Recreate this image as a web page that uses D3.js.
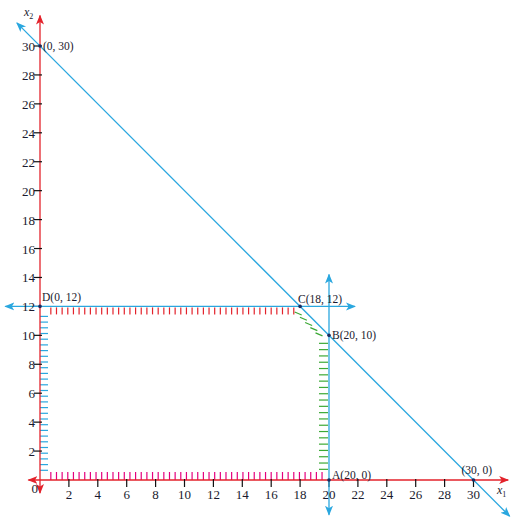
<!DOCTYPE html>
<html><head><meta charset="utf-8">
<script src="https://cdn.jsdelivr.net/npm/d3@7"></script>
<style>body{margin:0;background:#fff}svg{display:block}</style>
</head><body>
<svg id="c" width="514" height="521"></svg>
<script>
const xTicks = [2,4,6,8,10,12,14,16,18,20,22,24,26,28,30];
const yTicks = [2,4,6,8,10,12,14,16,18,20,22,24,26,28,30];
const vertices = [
  {name:"(0, 30)", x:0, y:30, dx:3, dy:4},
  {name:"D(0, 12)", x:0, y:12, dx:2, dy:-5},
  {name:"C(18, 12)", x:18, y:12, dx:-2, dy:-3},
  {name:"B(20, 10)", x:20, y:10, dx:3, dy:4},
  {name:"A(20, 0)", x:20, y:0, dx:3, dy:-1},
  {name:"(30, 0)", x:30, y:0, dx:-12, dy:-6}
];
// constraint lines: x1 + x2 = 30, x2 = 12, x1 = 20
const lineSum = [[-1.6,31.6],[32.5,-2.5]];
const lineH = [[-2.4,12],[21.8,12]];
const lineV = [[20,14.2],[20,-2.4]];

const svg = d3.select("#c");
const x = d3.scaleLinear().domain([0,30]).range([40,473.5]);
const y = d3.scaleLinear().domain([0,30]).range([480,46]);

const BLUE="#2aa7df", RED="#e3222b", MAG="#e5007d", GREEN="#3ba935", NAVY="#1d2b5e";
const FONT="'Liberation Serif','Times New Roman',serif";

const defs = svg.append("defs");
function marker(id,color){
  defs.append("marker").attr("id",id).attr("viewBox","0 0 10 10")
    .attr("refX",9).attr("refY",5).attr("markerWidth",10).attr("markerHeight",10)
    .attr("markerUnits","userSpaceOnUse").attr("orient","auto-start-reverse")
    .append("path").attr("d","M0,1 L10,5 L0,9 L2.5,5 Z").attr("fill",color);
}
marker("ab",BLUE); marker("ar",RED);

function seg(p,color,w,m){
  const l = svg.append("line").attr("x1",x(p[0][0])).attr("y1",y(p[0][1]))
    .attr("x2",x(p[1][0])).attr("y2",y(p[1][1])).attr("stroke",color).attr("stroke-width",w);
  if(m){l.attr("marker-start","url(#"+m+")").attr("marker-end","url(#"+m+")");}
  return l;
}

// hatching
const hatch = svg.append("g").attr("stroke-width",1.2);
// red hatch below x2=12
d3.range(x(0.75), x(18)-2, 5.65).forEach(px=>{
  hatch.append("line").attr("x1",px).attr("x2",px).attr("y1",y(12)+1).attr("y2",y(12)+8).attr("stroke",RED);
});
// blue hatch right of x1=0
d3.range(y(12)+10, y(0)-5, 5.7).forEach(py=>{
  hatch.append("line").attr("y1",py).attr("y2",py).attr("x1",x(0)).attr("x2",x(0)+8).attr("stroke",BLUE);
});
// magenta hatch above x2=0
d3.range(x(0.75), x(20)-6, 5.65).forEach(px=>{
  hatch.append("line").attr("x1",px).attr("x2",px).attr("y1",y(0)-8).attr("y2",y(0)).attr("stroke",MAG);
});
// green hatch left of x1=20
d3.range(y(10)+8, y(0)-8, 6.3).forEach(py=>{
  hatch.append("line").attr("y1",py).attr("y2",py).attr("x1",x(20)-10).attr("x2",x(20)-1).attr("stroke",GREEN);
});
// green hatch along x1+x2=30 between C and B
d3.range(18.25, 19.8, 0.36).forEach(t=>{
  const px=x(t), py=y(30-t);
  hatch.append("line").attr("x1",px-9).attr("y1",py+2).attr("x2",px-2).attr("y2",py+5).attr("stroke",GREEN);
});

// axes (red)
svg.append("line").attr("x1",x(-0.8)).attr("y1",y(0)).attr("x2",x(32.4)).attr("y2",y(0))
  .attr("stroke",RED).attr("stroke-width",1.3).attr("marker-start","url(#ar)").attr("marker-end","url(#ar)");
svg.append("line").attr("x1",x(0)).attr("y1",y(-0.9)).attr("x2",x(0)).attr("y2",y(32.1))
  .attr("stroke",RED).attr("stroke-width",1.3).attr("marker-start","url(#ar)").attr("marker-end","url(#ar)");

// ticks
svg.append("g").selectAll("line").data(xTicks).join("line")
  .attr("x1",d=>x(d)).attr("x2",d=>x(d)).attr("y1",y(0)-1).attr("y2",y(0)+7).attr("stroke","#111").attr("stroke-width",1.2);
svg.append("g").selectAll("line").data(yTicks).join("line")
  .attr("y1",d=>y(d)).attr("y2",d=>y(d)).attr("x1",x(0)-6).attr("x2",x(0)+2).attr("stroke","#111").attr("stroke-width",1.2);

// blue constraint lines
seg(lineSum,BLUE,1.3,"ab");
seg(lineH,BLUE,1.3,"ab");
seg(lineV,BLUE,1.3,"ab");

// tick labels
svg.append("g").selectAll("text").data(xTicks).join("text")
  .attr("x",d=>x(d)).attr("y",y(0)+19).attr("text-anchor","middle")
  .attr("font-family",FONT).attr("font-size",13).attr("fill","#1a1a2e").text(d=>d);
svg.append("g").selectAll("text").data(yTicks).join("text")
  .attr("x",x(0)-5).attr("y",d=>y(d)+5).attr("text-anchor","end")
  .attr("font-family",FONT).attr("font-size",13).attr("fill","#1a1a2e").text(d=>d);
svg.append("text").attr("x",x(0)-2).attr("y",y(0)+13).attr("text-anchor","end")
  .attr("font-family",FONT).attr("font-size",13).attr("fill","#1a1a2e").text("0");

// axis names
const t1 = svg.append("text").attr("x",497).attr("y",494).attr("font-family",FONT).attr("font-style","italic").attr("font-size",12).attr("fill","#1a1a2e");
t1.append("tspan").text("x");
t1.append("tspan").attr("font-size",8).attr("dy",3).attr("font-style","normal").text("1");
const t2 = svg.append("text").attr("x",24).attr("y",16).attr("font-family",FONT).attr("font-style","italic").attr("font-size",12).attr("fill","#1a1a2e");
t2.append("tspan").text("x");
t2.append("tspan").attr("font-size",8).attr("dy",3).attr("font-style","normal").text("2");

// vertices
svg.append("g").selectAll("circle").data(vertices).join("circle")
  .attr("cx",d=>x(d.x)).attr("cy",d=>y(d.y)).attr("r",1.8).attr("fill",NAVY);
svg.append("g").selectAll("text").data(vertices).join("text")
  .attr("x",d=>x(d.x)+d.dx).attr("y",d=>y(d.y)+d.dy)
  .attr("font-family",FONT).attr("font-size",11.5).attr("fill","#1a1a2e").text(d=>d.name);
</script>
</body></html>
